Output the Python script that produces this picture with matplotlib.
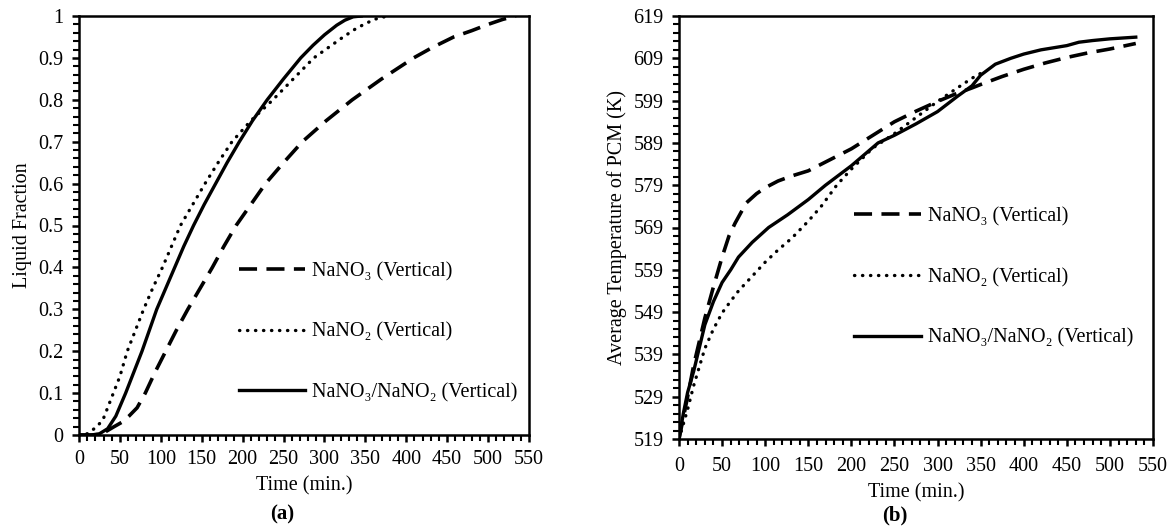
import numpy as np
import matplotlib
matplotlib.use("Agg")
import matplotlib.pyplot as plt
from matplotlib.ticker import MultipleLocator

plt.rcParams['font.family'] = ['Liberation Serif', 'DejaVu Serif']
plt.rcParams['font.size'] = 14.5

# (a) liquid fraction vs time (min.)
t_a_no3 = [0, 20, 30, 43, 52, 61, 71, 81, 93, 106, 119, 133, 148, 163, 177, 192, 210, 228, 250, 273, 302,
           334, 370, 409, 432, 458, 480, 500, 518, 534]
f_a_no3 = [0, 0, 0.005, 0.02, 0.03, 0.045, 0.065, 0.1, 0.15, 0.2, 0.25, 0.3, 0.35, 0.4, 0.45, 0.5, 0.55,
           0.6, 0.65, 0.7, 0.75, 0.8, 0.85, 0.9, 0.925, 0.95, 0.965, 0.98, 0.992, 1.0]
t_a_no2 = [0, 10, 20, 29, 40, 50, 59, 69, 79, 90, 102, 113, 124, 139, 154, 170, 187, 210, 237, 262, 287,
           305, 323, 337, 350, 363, 377]
f_a_no2 = [0, 0.003, 0.017, 0.035, 0.09, 0.14, 0.2, 0.25, 0.3, 0.35, 0.4, 0.45, 0.5, 0.55, 0.6, 0.65, 0.7,
           0.75, 0.8, 0.85, 0.9, 0.925, 0.95, 0.968, 0.982, 0.993, 1.0]
t_a_mix = [0, 15, 25, 35, 45, 57, 67, 77, 86, 95, 106, 117, 128, 140, 153, 167, 181, 196, 212, 230, 250,
           271, 286, 300, 315, 325, 335, 345]
f_a_mix = [0, 0, 0.003, 0.015, 0.045, 0.1, 0.15, 0.2, 0.25, 0.3, 0.35, 0.4, 0.45, 0.5, 0.55, 0.6, 0.65,
           0.7, 0.75, 0.8, 0.85, 0.9, 0.93, 0.955, 0.978, 0.99, 0.998, 1.0]

# (b) average PCM temperature (K) vs time (min.)
t_b_no3 = [0, 10, 17, 30, 40, 50, 58, 65, 78, 90, 100, 115, 131, 150, 175, 200, 225, 250, 275, 300, 320,
           340, 350, 375, 400, 425, 450, 475, 500, 530]
T_b_no3 = [519, 529, 536.4, 547.6, 555, 562, 567, 570, 574.8, 577, 578.4, 580, 581.2, 582.4, 585, 587.6,
           590.8, 594, 596.5, 598.8, 600.5, 602, 602.8, 604.7, 606.4, 607.9, 609.2, 610.3, 611.2, 612.5]
t_b_no2 = [0, 10, 17, 30, 40, 50, 60, 69, 85, 100, 115, 131, 150, 165, 183, 200, 225, 250, 275, 300, 323,
           340, 355]
T_b_no2 = [519, 526, 531.6, 540.4, 545, 548.8, 551.6, 554, 557.5, 560.8, 563.7, 566.5, 570.5, 574, 579,
           582.8, 587.8, 591.2, 595, 598.8, 602, 604.3, 606]
t_b_mix = [0, 5, 10, 17, 30, 40, 50, 60, 69, 85, 104, 126, 150, 170, 200, 231, 250, 275, 300, 323, 340,
           350, 367, 385, 400, 420, 450, 464, 480, 500, 530]
T_b_mix = [519, 525, 530, 535, 546, 551.5, 556, 559, 562, 565.5, 569, 572, 575.6, 579, 583.6,
           589, 590.8, 593.5, 596.4, 600, 602.5, 605, 607.6, 609, 610, 611, 612, 612.8, 613.2, 613.6, 614]

labels = ["NaNO\u2083 (Vertical)", "NaNO\u2082 (Vertical)", "NaNO\u2083/NaNO\u2082 (Vertical)"]

dash = dict(color="black", lw=2.6, linestyle=(0, (5, 2.6)))
dots = dict(color="black", lw=2.4, linestyle=(0, (0.1, 2.3)), dash_capstyle="round")
solid = dict(color="black", lw=2.4, linestyle="-")

fig = plt.figure(figsize=(11.72, 5.28), dpi=100)
ax1 = fig.add_axes([79/1172, 1-435/528, 450/1172, 419/528])
ax2 = fig.add_axes([679/1172, 1-439/528, 474/1172, 423/528])


def style(ax):
    for s in ax.spines.values():
        s.set_linewidth(1.8)
    ax.tick_params(which="major", direction="out", length=5, width=1.8, pad=6, labelsize=14.5)
    ax.tick_params(which="minor", direction="out", length=4, width=1.5)
    ax.xaxis.set_major_locator(MultipleLocator(50))
    ax.xaxis.set_minor_locator(MultipleLocator(10))
    ax.set_xlim(0, 550)
    ax.set_xlabel("Time (min.)", fontsize=14.5, labelpad=5)


ax1.plot(t_a_no3, f_a_no3, label=labels[0], **dash)
ax1.plot(t_a_no2, f_a_no2, label=labels[1], **dots)
ax1.plot(t_a_mix, f_a_mix, label=labels[2], **solid)
style(ax1)
ax1.set_ylim(0, 1)
ax1.yaxis.set_minor_locator(MultipleLocator(0.02))
ax1.set_yticks(np.arange(0, 1.01, 0.1))
ax1.set_yticklabels(["0"] + ["%.1f" % v for v in np.arange(0.1, 0.95, 0.1)] + ["1"])
ax1.set_ylabel("Liquid Fraction", fontsize=14.5, labelpad=5)
ax1.legend(loc="center left", bbox_to_anchor=(0.355, 0.245), frameon=False, fontsize=14.5,
           handlelength=3.3, handletextpad=0.35, labelspacing=2.05, borderpad=0, borderaxespad=0)

ax2.plot(t_b_no3, T_b_no3, label=labels[0], **dash)
ax2.plot(t_b_no2, T_b_no2, label=labels[1], **dots)
ax2.plot(t_b_mix, T_b_mix, label=labels[2], **solid)
style(ax2)
ax2.tick_params(axis="x", pad=8)
ax2.set_ylim(519, 619)
ax2.set_yticks(np.arange(519, 620, 10))
ax2.set_yticks(np.arange(519, 620, 2), minor=True)
ax2.set_ylabel("Average Temperature of PCM (K)", fontsize=14.5, labelpad=5)
ax2.legend(loc="center left", bbox_to_anchor=(0.37, 0.382), frameon=False, fontsize=14.5,
           handlelength=3.3, handletextpad=0.35, labelspacing=2.05, borderpad=0, borderaxespad=0)

fig.text(282/1172, 1-514/528, "(a)", ha="center", va="center", fontsize=15, fontweight="bold")
fig.text(895/1172, 1-515/528, "(b)", ha="center", va="center", fontsize=15, fontweight="bold")

fig.savefig("out.png", dpi=100)
